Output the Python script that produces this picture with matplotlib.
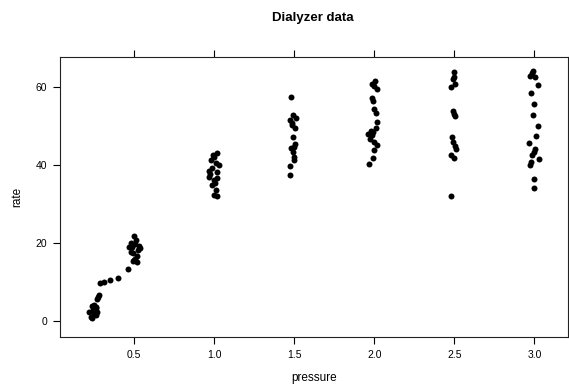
import matplotlib
matplotlib.use("Agg")
import matplotlib.pyplot as plt

# pressure values are as jittered in the plot (lattice jitter.x)
p_025 = [0.29, 0.31, 0.35, 0.40, 0.28, 0.275, 0.27, 0.24, 0.26, 0.245,
         0.23, 0.25, 0.22, 0.27, 0.26, 0.235, 0.25, 0.265]
r_025 = [9.8, 10.1, 10.5, 11.0, 6.7, 6.1, 5.6, 3.8, 3.3, 2.8,
         1.1, 2.0, 2.4, 2.4, 1.5, 0.7, 4.2, 3.7]

p_050 = [0.50, 0.48, 0.506, 0.54, 0.48, 0.496, 0.517, 0.50, 0.52, 0.464,
         0.51, 0.49, 0.525, 0.47, 0.505, 0.53, 0.495]
r_050 = [21.8, 20.1, 19.7, 18.6, 17.8, 17.4, 16.7, 15.6, 15.2, 13.3,
         20.8, 19.0, 18.2, 18.9, 16.0, 19.3, 15.4]

p_100 = [1.02, 1.00, 0.98, 1.01, 0.985, 1.02, 0.965, 1.00, 0.985, 1.01,
         1.00, 1.015, 0.99, 1.03, 0.975, 1.005, 0.97, 1.02]
r_100 = [43.2, 42.1, 41.3, 40.4, 39.2, 38.3, 37.0, 36.2, 34.9, 33.6,
         32.3, 32.1, 42.5, 40.0, 37.8, 35.4, 38.5, 36.8]

p_150 = [1.479, 1.471, 1.5125, 1.486, 1.506, 1.49, 1.479, 1.496, 1.49, 1.50,
         1.496, 1.475, 1.475, 1.49, 1.505, 1.485]
r_150 = [57.4, 51.5, 52.0, 50.7, 49.4, 47.3, 44.3, 44.7, 43.4, 42.1,
         41.3, 39.7, 37.4, 52.8, 45.5, 50.2]

p_200 = [1.986, 1.996, 2.017, 1.986, 1.992, 1.996, 2.0125, 2.02, 1.98, 1.964,
         1.986, 1.975, 1.996, 2.017, 1.996, 1.99, 1.969, 2.005, 1.99, 2.01]
r_200 = [60.9, 60.2, 59.4, 57.1, 56.5, 54.3, 53.4, 51.1, 48.8, 47.9,
         47.7, 46.8, 46.0, 45.1, 43.8, 41.7, 40.2, 61.5, 48.5, 49.5]

p_250 = [2.496, 2.492, 2.506, 2.479, 2.496, 2.506, 2.486, 2.492, 2.5125, 2.479,
         2.496, 2.479, 2.50, 2.49, 2.505]
r_250 = [63.9, 62.0, 60.9, 60.1, 53.2, 52.6, 47.1, 46.0, 44.0, 42.6,
         41.7, 32.1, 62.5, 53.8, 45.0]

p_300 = [2.986, 2.975, 3.006, 3.02, 2.979, 3.0, 2.992, 3.02, 3.0125, 2.969,
         3.006, 2.996, 3.027, 2.979, 2.971, 3.0, 3.0, 2.99, 2.985]
r_300 = [63.5, 62.8, 62.5, 60.5, 58.4, 55.6, 52.8, 50.0, 47.4, 45.6,
         44.0, 43.4, 41.5, 40.8, 40.0, 36.3, 34.0, 64.2, 42.5]

pressure = p_025 + p_050 + p_100 + p_150 + p_200 + p_250 + p_300
rate = r_025 + r_050 + r_100 + r_150 + r_200 + r_250 + r_300

x_ticks = [0.5, 1.0, 1.5, 2.0, 2.5, 3.0]
y_ticks = [0, 20, 40, 60]

plt.rcParams["font.family"] = ["Liberation Sans", "DejaVu Sans"]

fig = plt.figure(figsize=(5.69, 3.84), dpi=100)
ax = fig.add_axes([60 / 569, 1 - 337 / 384, 508 / 569, 280 / 384])

ax.plot(pressure, rate, "o", color="black", markersize=4.3, markeredgewidth=0)

ax.set_xlim(0.0375, 3.21)
ax.set_ylim(-4.1, 67.7)
ax.set_xticks(x_ticks)
ax.set_xticklabels([f"{v:.1f}" for v in x_ticks])
ax.set_yticks(y_ticks)
ax.tick_params(axis="x", top=True, bottom=True, direction="out", length=5,
               width=0.8, labelsize=7.5, pad=4)
ax.tick_params(axis="y", left=True, right=True, direction="out", length=5,
               width=0.8, labelsize=7.5, pad=4)
for s in ax.spines.values():
    s.set_linewidth(0.8)
    s.set_color("#222222")

ax.set_xlabel("pressure", fontsize=8.5, labelpad=9)
ax.set_ylabel("rate", fontsize=8.5, labelpad=9)
fig.text(0.55, 0.953, "Dialyzer data", ha="center", va="center",
         fontsize=9.5, fontweight="bold")

fig.savefig("out.png", dpi=100)
